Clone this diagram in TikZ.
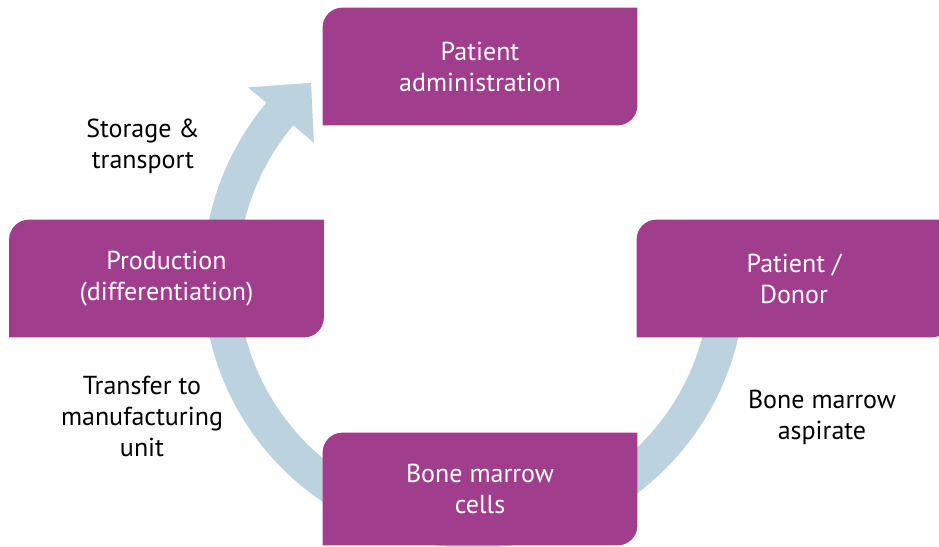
\documentclass[tikz,border=0pt]{standalone}
\usepackage{fontspec}
\setmainfont{PT Sans}
\usepackage{xcolor}
\usetikzlibrary{backgrounds}

\definecolor{stagepurple}{RGB}{160,61,140}
\definecolor{cycleblue}{RGB}{189,210,223}

% box with rounded top left and bottom right corners
\newcommand{\leafbox}[1]{%
  \fill[stagepurple] (#1.south west) -- ([yshift=-10pt]#1.north west)
    arc[start angle=180, end angle=90, radius=10pt] -- (#1.north east)
    -- ([yshift=10pt]#1.south east)
    arc[start angle=0, end angle=-90, radius=10pt] -- cycle;}

\begin{document}
\begin{tikzpicture}[x=0.5pt, y=0.5pt,
        stage/.style={minimum width=157pt, minimum height=58.5pt, inner sep=0pt,
            align=center, text=white, font=\fontsize{13}{15.5}\selectfont},
        note/.style={align=center, font=\fontsize{13}{15.5}\selectfont}]
    \useasboundingbox (0,0) rectangle (939,547);

    \node[stage] (admin) at (480,480.5) {Patient\\administration};
    \node[stage] (prod) at (166.5,268.5) {Production\\(differentiation)};
    \node[stage] (donor) at (794,268.5) {Patient /\\Donor};
    \node[stage, minimum height=56pt] (cells) at (480,58) {Bone marrow\\cells};

    \node[note] (storage) at (143,401) {Storage \&\\transport};
    \node[note] (transfer) at (142,131) {Transfer to\\manufacturing\\unit};
    \node[note] (aspirate) at (822,130) {Bone marrow\\aspirate};

    \begin{scope}[on background layer]
        % cycle arrow
        \begin{scope}[shift={(474,270)}]
            \fill[cycleblue] (5:271) arc[start angle=5, end angle=-220, radius=271]
                -- (140:295) -- (130:253.5) -- (140:209) -- (140:236)
                arc[start angle=140, end angle=365, radius=236] -- cycle;
        \end{scope}
        \leafbox{admin}
        \leafbox{prod}
        \leafbox{donor}
        \leafbox{cells}
    \end{scope}
\end{tikzpicture}
\end{document}
